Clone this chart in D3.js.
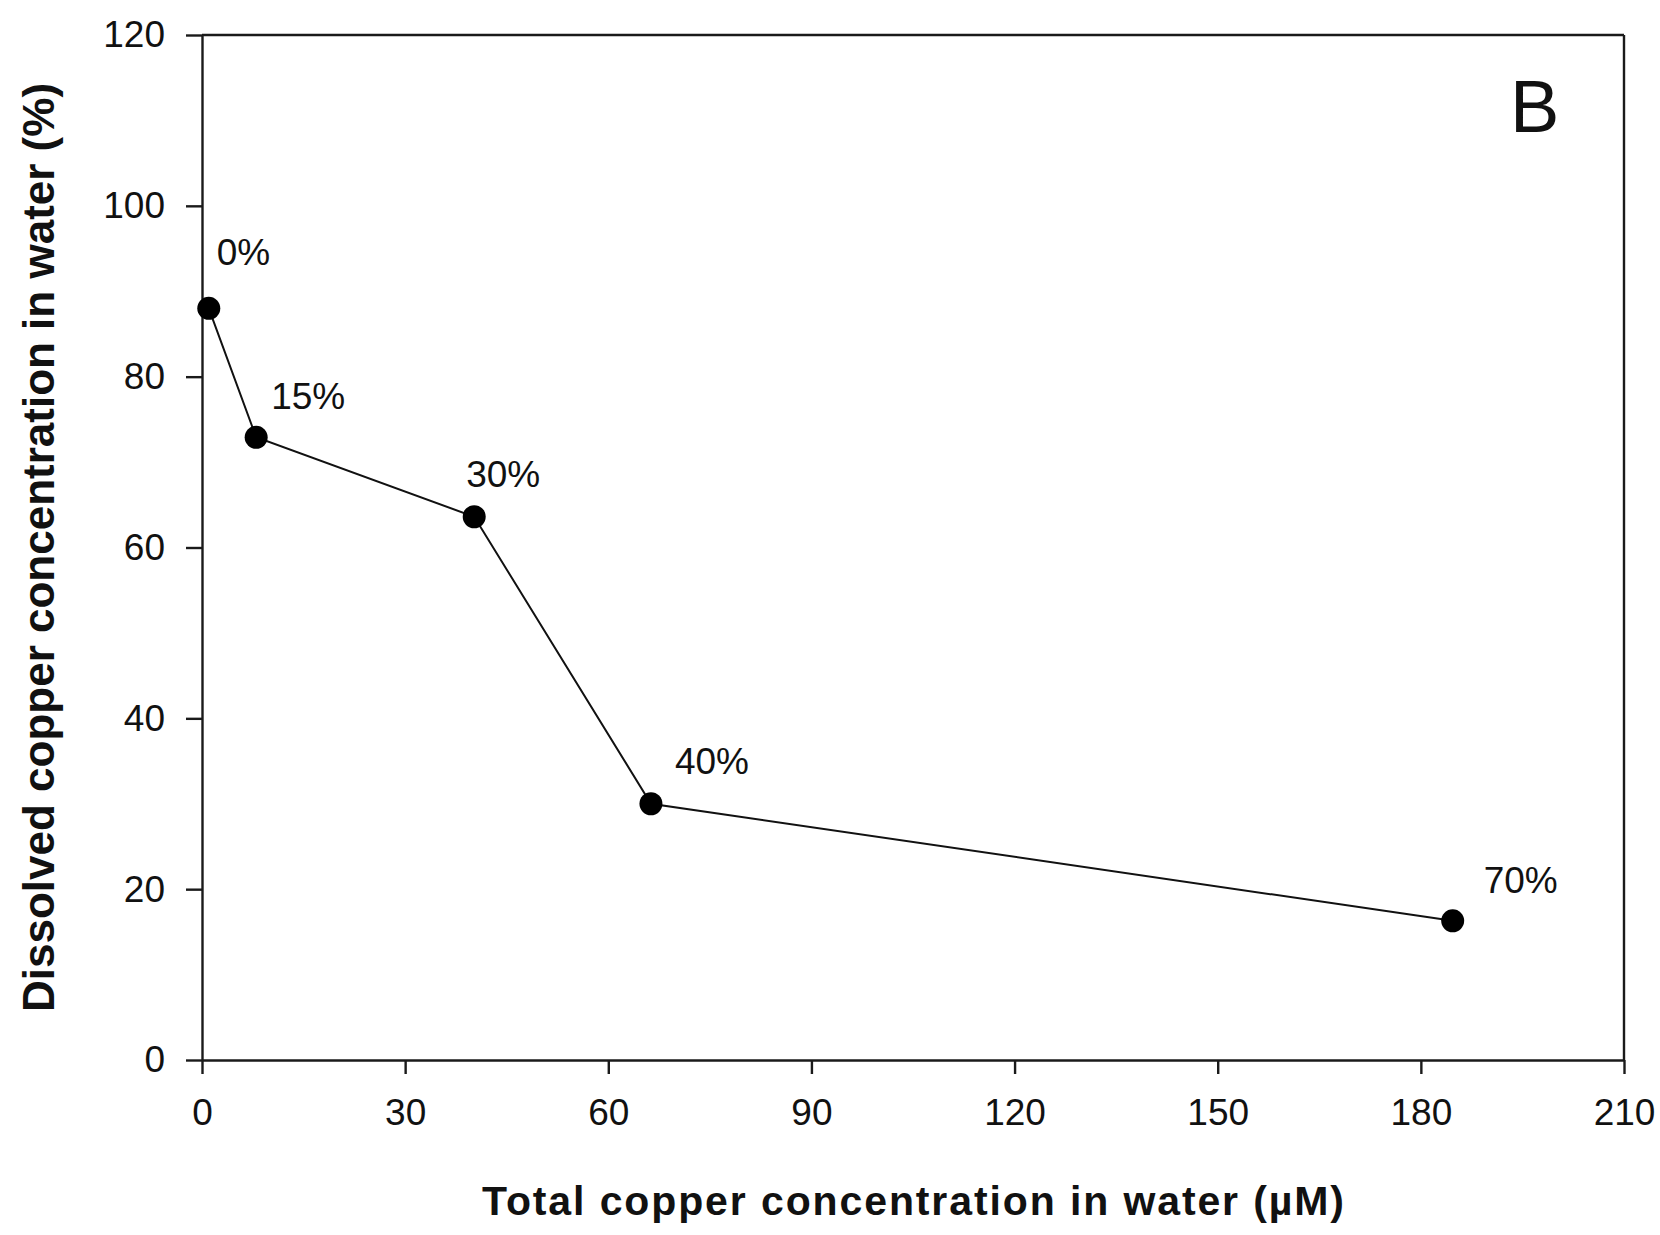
<!DOCTYPE html>
<html>
<head>
<meta charset="utf-8">
<script src="https://cdn.jsdelivr.net/npm/d3@7"></script>
<style>
  html, body { margin: 0; padding: 0; background: #fff; }
  svg { display: block; }
  text { font-family: "Liberation Sans", Arial, sans-serif; fill: #111; }
</style>
</head>
<body>
<svg id="chart" width="1660" height="1235"></svg>
<script>
// Total copper concentration in water (µM)
const totalCopper = [1, 8, 40.2, 66.3, 184.7];
// Dissolved copper as share of total (%)
const dissolvedPct = [88.0, 72.9, 63.6, 30.0, 16.3];
// Point annotations
const pointLabels = ["0%", "15%", "30%", "40%", "70%"];
// Annotation nudges from each point, in pixels [dx, dy]
const labelNudge = [[8, -43], [15, -28], [-8, -30], [24, -30], [31, -28]];
// Axis ticks
const xTicks = [0, 30, 60, 90, 120, 150, 180, 210];
const yTicks = [0, 20, 40, 60, 80, 100, 120];
const panelLetter = "B";

const svg = d3.select("#chart");
const W = 1660, H = 1235;
const margin = { left: 202, right: W - 1624, top: 35, bottom: H - 1060 };
const iw = W - margin.left - margin.right;
const ih = H - margin.top - margin.bottom;

const x = d3.scaleLinear().domain([0, 210]).range([0, iw]);
const y = d3.scaleLinear().domain([0, 120]).range([ih, 0]);

const g = svg.append("g").attr("transform", `translate(${margin.left},${margin.top})`);

const axisColor = "#1a1a1a";

// Frame: top and right edges
g.append("line").attr("x1", 0).attr("x2", iw).attr("y1", 0).attr("y2", 0)
  .attr("stroke", axisColor).attr("stroke-width", 2.4);
g.append("line").attr("x1", iw).attr("x2", iw).attr("y1", 0).attr("y2", ih)
  .attr("stroke", axisColor).attr("stroke-width", 2.4);

// Y axis
const yAxis = g.append("g")
  .call(d3.axisLeft(y).tickValues(yTicks).tickSize(16).tickSizeOuter(0).tickPadding(21));
// X axis
const xAxis = g.append("g").attr("transform", `translate(0,${ih})`)
  .call(d3.axisBottom(x).tickValues(xTicks).tickSize(14).tickSizeOuter(0).tickPadding(25));

[yAxis, xAxis].forEach(a => {
  a.select(".domain").attr("stroke", axisColor).attr("stroke-width", 2.4);
  a.selectAll(".tick line").attr("stroke", axisColor).attr("stroke-width", 2.4);
  a.selectAll(".tick text")
    .attr("font-family", "'Liberation Sans', Arial, sans-serif")
    .attr("font-size", 37)
    .attr("fill", "#111");
});

// Data line
const pts = totalCopper.map((v, i) => [v, dissolvedPct[i]]);
g.append("path")
  .datum(pts)
  .attr("fill", "none")
  .attr("stroke", "#111")
  .attr("stroke-width", 2)
  .attr("d", d3.line().x(d => x(d[0])).y(d => y(d[1])));

// Markers
g.selectAll("circle.pt")
  .data(pts)
  .join("circle")
  .attr("class", "pt")
  .attr("cx", d => x(d[0]))
  .attr("cy", d => y(d[1]))
  .attr("r", 11.5)
  .attr("fill", "#000");

// Point annotations
g.selectAll("text.pl")
  .data(pts)
  .join("text")
  .attr("class", "pl")
  .attr("x", (d, i) => x(d[0]) + labelNudge[i][0])
  .attr("y", (d, i) => y(d[1]) + labelNudge[i][1])
  .attr("font-size", 37)
  .text((d, i) => pointLabels[i]);

// Panel letter
g.append("text")
  .attr("x", iw - 114)
  .attr("y", 97)
  .attr("font-size", 74)
  .text(panelLetter);

// Axis titles
svg.append("text")
  .attr("x", margin.left + iw / 2)
  .attr("y", 1215)
  .attr("text-anchor", "middle")
  .attr("font-size", 41)
  .attr("font-weight", "bold")
  .attr("textLength", 862)
  .attr("lengthAdjust", "spacing")
  .text("Total copper concentration in water (\u00B5M)");

svg.append("text")
  .attr("transform", `translate(54,${margin.top + ih / 2}) rotate(-90)`)
  .attr("text-anchor", "middle")
  .attr("font-size", 44)
  .attr("font-weight", "bold")
  .text("Dissolved copper concentration in water (%)");
</script>
</body>
</html>
